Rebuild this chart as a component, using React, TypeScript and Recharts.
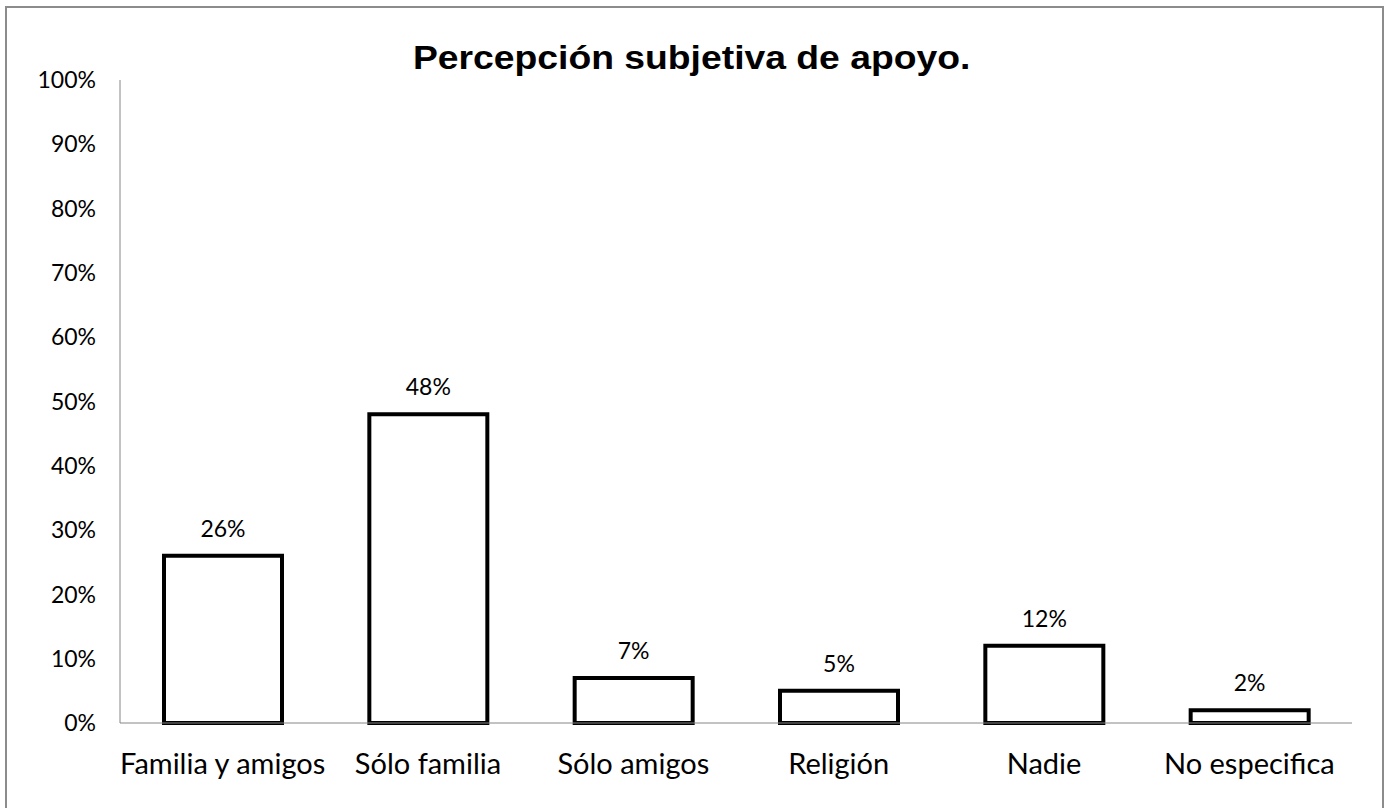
import React from 'react';
import { BarChart, Bar, XAxis, YAxis, LabelList } from 'recharts';

const categories = ['Familia y amigos', 'Sólo familia', 'Sólo amigos', 'Religión', 'Nadie', 'No especifica'];
const percentages = [26, 48, 7, 5, 12, 2];
const yTicks = [0, 10, 20, 30, 40, 50, 60, 70, 80, 90, 100];
const title = 'Percepción subjetiva de apoyo.';

const data = categories.map((name, i) => ({ name, value: percentages[i] }));

const FONT = 'Lato, "Open Sans", sans-serif';
const AXIS = '#868686';

const App: React.FC = () => {
  return (
    <div style={{ position: 'absolute', left: 0, top: 0, width: 1390, height: 808, overflow: 'hidden', background: '#fff' }}>
      <div
        style={{
          position: 'absolute',
          left: 5,
          top: 6,
          width: 1379,
          height: 820,
          border: '2px solid #8c8c8c',
          boxSizing: 'border-box',
        }}
      />
      <div
        style={{
          position: 'absolute',
          left: 0,
          width: 1390,
          top: 39,
          textAlign: 'center',
          fontFamily: '"Liberation Sans", Arial, sans-serif',
          fontWeight: 'bold',
          fontSize: 33,
          color: '#000',
        }}
      >
        <span style={{ display: 'inline-block', position: 'relative', left: -3, transform: 'scaleX(1.13)' }}>{title}</span>
      </div>
      <div style={{ position: 'absolute', left: 0, top: 0 }}>
        <BarChart width={1390} height={808} data={data} margin={{ top: 80, right: 38, bottom: 0, left: 0 }}>
          <XAxis
            dataKey="name"
            stroke={AXIS}
            tickLine={false}
            tickSize={0}
            tickMargin={30}
            height={85}
            interval={0}
            tick={{ fill: '#000', fontSize: 29, fontFamily: FONT }}
          />
          <YAxis
            domain={[0, 100]}
            ticks={yTicks}
            stroke={AXIS}
            tickLine={false}
            tickSize={0}
            tickMargin={24}
            width={120}
            tickFormatter={(v: number) => `${v}%`}
            tick={{ fill: '#000', fontSize: 23, fontFamily: FONT }}
          />
          <Bar dataKey="value" fill="#fff" stroke="#000" strokeWidth={4} barSize={118} isAnimationActive={false}>
            <LabelList
              dataKey="value"
              position="top"
              offset={19}
              formatter={(v: number) => `${v}%`}
              style={{ fill: '#000', fontSize: 23, fontFamily: FONT }}
            />
          </Bar>
        </BarChart>
      </div>
    </div>
  );
};

export default App;
